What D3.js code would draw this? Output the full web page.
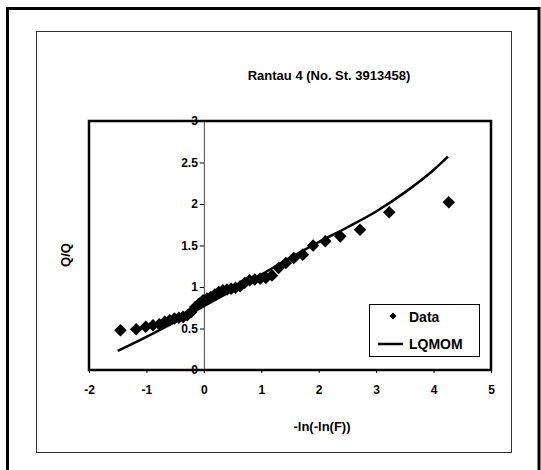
<!DOCTYPE html>
<html>
<head>
<meta charset="utf-8">
<script src="https://cdn.jsdelivr.net/npm/d3@7"></script>
<style>
    body { margin: 0; background: #fff; }
    text { font-family: "Liberation Sans", Arial, sans-serif; font-weight: bold; fill: #000; }
</style>
</head>
<body>
<svg id="canvas" width="541" height="470"></svg>
<script>
// plotting positions (-ln(-ln(F))) and observed Q/Qmean
var dataX = [-1.452, -1.178, -1.012, -0.885, -0.777, -0.681, -0.594, -0.512, -0.435, -0.361,
    -0.289, -0.219, -0.150, -0.081, -0.014, 0.054, 0.122, 0.191, 0.260, 0.331,
    0.403, 0.476, 0.552, 0.631, 0.712, 0.797, 0.886, 0.980, 1.079, 1.186,
    1.301, 1.428, 1.566, 1.723, 1.903, 2.115, 2.376, 2.719, 3.228, 4.264];
var dataY = [0.48, 0.49, 0.52, 0.54, 0.55, 0.58, 0.60, 0.62, 0.63, 0.64,
    0.66, 0.70, 0.76, 0.80, 0.84, 0.86, 0.88, 0.91, 0.94, 0.96,
    0.97, 0.98, 0.99, 1.01, 1.05, 1.08, 1.09, 1.10, 1.11, 1.14,
    1.23, 1.29, 1.35, 1.39, 1.50, 1.55, 1.61, 1.69, 1.90, 2.02];

// fitted LQMOM curve
var fitX = [-1.5, -1, -0.5, 0, 0.5, 1, 1.5, 2, 2.5, 3, 3.5, 4, 4.25];
var fitY = [0.23, 0.40, 0.58, 0.77, 0.96, 1.15, 1.35, 1.54, 1.72, 1.91, 2.14, 2.41, 2.57];

var xTicks = [-2, -1, 0, 1, 2, 3, 4, 5];
var yTicks = [0, 0.5, 1, 1.5, 2, 2.5, 3];

var svg = d3.select("#canvas");

// outer frame (no bottom edge visible)
svg.append("path")
    .attr("d", "M7.5,470 L7.5,8.5 L539,8.5 L539,470")
    .attr("fill", "none").attr("stroke", "#000").attr("stroke-width", 3);

// chart area frame
svg.append("rect")
    .attr("x", 36.5).attr("y", 31.5).attr("width", 475).attr("height", 421)
    .attr("fill", "none").attr("stroke", "#333").attr("stroke-width", 1);

var plotLeft = 89, plotRight = 491, plotTop = 121, plotBottom = 370;
var x = d3.scaleLinear().domain([-2, 5]).range([plotLeft, plotRight]);
var y = d3.scaleLinear().domain([0, 3]).range([plotBottom, plotTop]);

// x axis ticks along bottom
var xAxis = svg.append("g")
    .attr("transform", "translate(0," + plotBottom + ")")
    .call(d3.axisBottom(x).tickValues(xTicks).tickSize(3).tickPadding(12)
        .tickFormat(function (d) { return String(d); }));
xAxis.select(".domain").remove();
xAxis.selectAll("text").style("font-size", "12px");
xAxis.selectAll("line").attr("stroke", "#000");

// y axis crossing at x = 0
var yAxis = svg.append("g")
    .attr("transform", "translate(" + x(0) + ",0)")
    .call(d3.axisLeft(y).tickValues(yTicks).tickSize(4).tickSizeOuter(0).tickPadding(2)
        .tickFormat(function (d) { return String(d); }));
yAxis.select(".domain").attr("stroke", "#444").attr("stroke-width", 1);
yAxis.selectAll("line").attr("stroke", "#000");
yAxis.selectAll("text").style("font-size", "12px");

// plot area border
svg.append("rect")
    .attr("x", plotLeft).attr("y", plotTop)
    .attr("width", plotRight - plotLeft).attr("height", plotBottom - plotTop)
    .attr("fill", "none").attr("stroke", "#000").attr("stroke-width", 2.5);

// fitted line
var line = d3.line()
    .x(function (d, i) { return x(fitX[i]); })
    .y(function (d) { return y(d); })
    .curve(d3.curveMonotoneX);
svg.append("path")
    .datum(fitY)
    .attr("d", line)
    .attr("fill", "none").attr("stroke", "#000").attr("stroke-width", 2.5);

// data diamonds
var diamond = d3.symbol().type(d3.symbolDiamond2).size(100);
svg.append("g").selectAll("path")
    .data(dataY)
    .enter().append("path")
    .attr("d", diamond)
    .attr("transform", function (d, i) { return "translate(" + x(dataX[i]) + "," + y(d) + ")"; })
    .attr("fill", "#000");

// title and axis labels
svg.append("text")
    .attr("x", 329).attr("y", 80).attr("text-anchor", "middle")
    .style("font-size", "13px")
    .text("Rantau 4 (No. St. 3913458)");

svg.append("text")
    .attr("x", 322).attr("y", 431).attr("text-anchor", "middle")
    .style("font-size", "13px")
    .text("-ln(-ln(F))");

svg.append("text")
    .attr("transform", "translate(70,255) rotate(-90)")
    .attr("text-anchor", "middle")
    .style("font-size", "13px")
    .text("Q/Q");

// legend
var legend = svg.append("g");
legend.append("rect")
    .attr("x", 369.5).attr("y", 304.5).attr("width", 110).attr("height", 52)
    .attr("fill", "#fff").attr("stroke", "#000").attr("stroke-width", 1);
legend.append("path")
    .attr("d", d3.symbol().type(d3.symbolDiamond2).size(32))
    .attr("transform", "translate(393,316)")
    .attr("fill", "#000");
legend.append("text")
    .attr("x", 409).attr("y", 322).style("font-size", "14px").text("Data");
legend.append("line")
    .attr("x1", 378).attr("x2", 403).attr("y1", 344).attr("y2", 344)
    .attr("stroke", "#000").attr("stroke-width", 2.5);
legend.append("text")
    .attr("x", 409).attr("y", 349).style("font-size", "14px").text("LQMOM");
</script>
</body>
</html>
